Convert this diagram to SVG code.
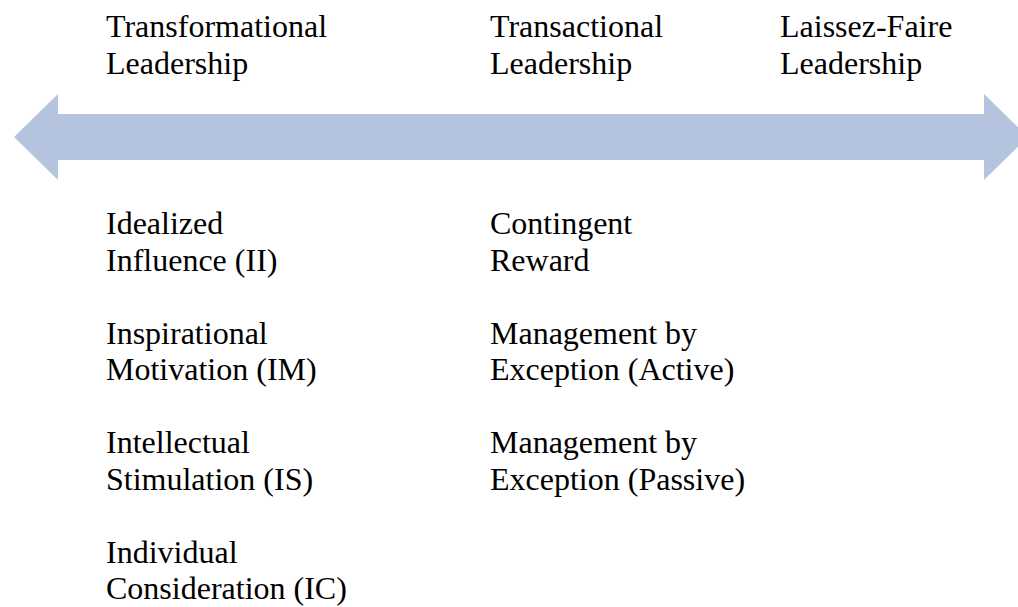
<svg xmlns="http://www.w3.org/2000/svg" width="1018" height="607" viewBox="0 0 1018 607">
  <style>
    text { font-family: "Liberation Serif", "Times New Roman", serif; font-size: 32px; fill: #000; }
    .band { fill: #B4C4DF; }
  </style>
  <rect width="1018" height="607" fill="#fff"/>

  <!-- double-headed arrow spanning the continuum -->
  <g id="connectors">
    <path class="band" d="M14,137 L58,94 L58,114 L984,114 L984,94 L1028,137 L984,180 L984,160 L58,160 L58,180 Z"/>
  </g>

  <!-- leadership styles along the top -->
  <g id="transformational">
    <text x="106" y="37">Transformational</text>
    <text x="106" y="73.5">Leadership</text>
  </g>
  <g id="transactional">
    <text x="490" y="37">Transactional</text>
    <text x="490" y="73.5">Leadership</text>
  </g>
  <g id="laissez-faire">
    <text x="780" y="37">Laissez-Faire</text>
    <text x="780" y="73.5">Leadership</text>
  </g>

  <!-- transformational components -->
  <g id="idealized-influence">
    <text x="106" y="234">Idealized</text>
    <text x="106" y="270.5">Influence (II)</text>
  </g>
  <g id="inspirational-motivation">
    <text x="106" y="343.5">Inspirational</text>
    <text x="106" y="380">Motivation (IM)</text>
  </g>
  <g id="intellectual-stimulation">
    <text x="106" y="453">Intellectual</text>
    <text x="106" y="489.5">Stimulation (IS)</text>
  </g>
  <g id="individual-consideration">
    <text x="106" y="562.5">Individual</text>
    <text x="106" y="599">Consideration (IC)</text>
  </g>

  <!-- transactional components -->
  <g id="contingent-reward">
    <text x="490" y="234">Contingent</text>
    <text x="490" y="270.5">Reward</text>
  </g>
  <g id="mbe-active">
    <text x="490" y="343.5">Management by</text>
    <text x="490" y="380">Exception (Active)</text>
  </g>
  <g id="mbe-passive">
    <text x="490" y="453">Management by</text>
    <text x="490" y="489.5">Exception (Passive)</text>
  </g>
</svg>
